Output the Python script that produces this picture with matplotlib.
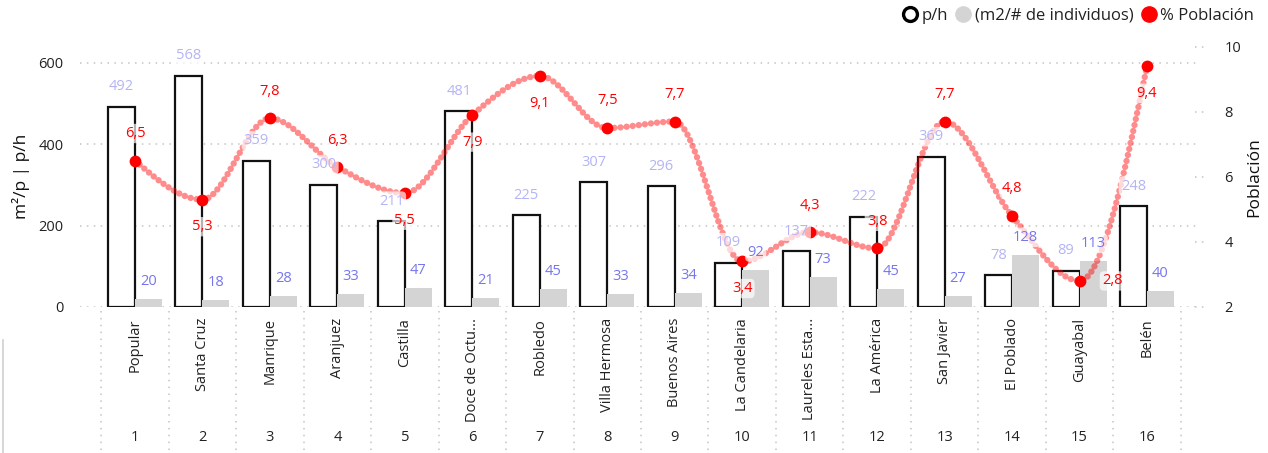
import numpy as np
import matplotlib
matplotlib.use("Agg")
import matplotlib.pyplot as plt
from matplotlib.lines import Line2D
import matplotlib.transforms as mtransforms

plt.rcParams['font.family'] = ['Open Sans', 'DejaVu Sans']

# ---- data ----
comunas = ["Popular", "Santa Cruz", "Manrique", "Aranjuez", "Castilla",
           "Doce de Octu...", "Robledo", "Villa Hermosa", "Buenos Aires",
           "La Candelaria", "Laureles Esta...", "La América", "San Javier",
           "El Poblado", "Guayabal", "Belén"]
numeros = ["1", "2", "3", "4", "5", "6", "7", "8", "9", "10", "11", "12",
           "13", "14", "15", "16"]
p_h = [492, 568, 359, 300, 211, 481, 225, 307, 296, 109, 137, 222, 369, 78, 89, 248]
m2_individuos = [20, 18, 28, 33, 47, 21, 45, 33, 34, 92, 73, 45, 27, 128, 113, 40]
poblacion = [6.5, 5.3, 7.8, 6.3, 5.5, 7.9, 9.1, 7.5, 7.7, 3.4, 4.3, 3.8, 7.7, 4.8, 2.8, 9.4]

# where each % label sits relative to its marker
pos_label = ["above", "below", "above", "above", "below", "below", "below", "above",
             "above", "below", "above", "above", "above", "above", "right", "below"]

# ---- styling ----
C_BAR_EDGE = "#111111"
C_GRAY = "#d4d4d4"
C_RED = "#ff0000"
C_LBL_PH = "#b4b4f6"
C_LBL_M2 = "#7676ee"
C_GRID = "#c4c4c4"
C_TEXT = "#222222"


def monotone_curve(xs, ys, n=40):
    """Monotone cubic (Steffen) path through the points, for a smooth line."""
    xs = np.asarray(xs, float)
    ys = np.asarray(ys, float)
    h = np.diff(xs)
    s = np.diff(ys) / h
    m = np.zeros_like(ys)
    for i in range(1, len(ys) - 1):
        p = (s[i - 1] * h[i] + s[i] * h[i - 1]) / (h[i - 1] + h[i])
        m[i] = (np.sign(s[i - 1]) + np.sign(s[i])) * min(abs(s[i - 1]), abs(s[i]), 0.5 * abs(p))
    m[0] = (3 * s[0] - m[1]) / 2
    m[-1] = (3 * s[-1] - m[-2]) / 2
    px, py = [], []
    for i in range(len(xs) - 1):
        t = np.linspace(0, 1, n, endpoint=False)
        h00 = 2 * t**3 - 3 * t**2 + 1
        h10 = t**3 - 2 * t**2 + t
        h01 = -2 * t**3 + 3 * t**2
        h11 = t**3 - t**2
        px.append(xs[i] + t * h[i])
        py.append(h00 * ys[i] + h10 * h[i] * m[i] + h01 * ys[i + 1] + h11 * h[i] * m[i + 1])
    px.append([xs[-1]])
    py.append([ys[-1]])
    return np.concatenate(px), np.concatenate(py)


W, H = 1268, 453
fig = plt.figure(figsize=(W / 100, H / 100), dpi=100)
ax_l, ax_r, ax_b, ax_t = 80, 1198, 307, 46.7
ax = fig.add_axes([ax_l / W, 1 - ax_b / H, (ax_r - ax_l) / W, (ax_b - ax_t) / H])
ax2 = ax.twinx()

x = np.arange(1, len(comunas) + 1)
bw = 0.4

# bars
ax.bar(x - bw / 2, p_h, width=bw, facecolor="white", edgecolor=C_BAR_EDGE,
       linewidth=1.6, zorder=2)
ax.bar(x + bw / 2, m2_individuos, width=bw, facecolor=C_GRAY, edgecolor="none", zorder=2)

ax.set_xlim(0.185, 16.756)
ax.set_ylim(0, 639.3)
ax2.set_ylim(2, 10)

# horizontal dotted gridlines
for v in [0, 200, 400, 600]:
    ax.axhline(v, color=C_GRID, linestyle=(0, (1, 3.5)), linewidth=1.1, zorder=0)

for a in (ax, ax2):
    for sp in a.spines.values():
        sp.set_visible(False)

# smooth dotted line and markers
cx, cy = monotone_curve(x, poblacion)
ax2.plot(cx, cy, color=C_RED, alpha=0.45, linewidth=4.6,
         linestyle=(0, (0.01, 0.95)), dash_capstyle="round", zorder=2)
ax2.plot(x, poblacion, linestyle="none", marker="o", markersize=8.5,
         color=C_RED, markeredgewidth=0, zorder=3)

bbox = dict(boxstyle="round,pad=0.15,rounding_size=0.3", facecolor="white",
            edgecolor="none", alpha=0.68)

# labels for the bars (drawn on top of the line)
for xi, v in zip(x, p_h):
    ax2.annotate(f"{v}", xy=(xi - bw / 2, v), xycoords=ax.transData,
                 xytext=(0, 14.4), textcoords="offset points",
                 ha="center", va="center", fontsize=10.5, color=C_LBL_PH,
                 bbox=bbox, zorder=5, annotation_clip=False)
for xi, v in zip(x, m2_individuos):
    ax2.annotate(f"{v}", xy=(xi + bw / 2, v), xycoords=ax.transData,
                 xytext=(0, 12.6), textcoords="offset points",
                 ha="center", va="center", fontsize=10.5, color=C_LBL_M2,
                 bbox=bbox, zorder=5, annotation_clip=False)

offsets = {"above": (0, 19.5), "below": (0, -19.5), "right": (23.5, 0)}
for xi, v, p in zip(x, poblacion, pos_label):
    ax2.annotate(f"{v:.1f}".replace(".", ","), xy=(xi, v),
                 xytext=offsets[p], textcoords="offset points",
                 ha="center", va="center", fontsize=10.5, color=C_RED,
                 bbox=bbox, zorder=6, annotation_clip=False)

# left axis
ax.set_yticks([0, 200, 400, 600])
ax.tick_params(axis="y", length=0, pad=12, labelsize=10.5, labelcolor=C_TEXT)
ax.set_ylabel("m²/p | p/h", fontsize=12.5, color="#111111", labelpad=6)

# right axis with short dotted stubs
ax2.set_yticks([2, 4, 6, 8, 10])
ax2.tick_params(axis="y", length=0, pad=19, labelsize=10.5, labelcolor=C_TEXT)
ax2.set_ylabel("Población", fontsize=12.5, color="#111111", labelpad=4)
stub_tr = mtransforms.blended_transform_factory(ax2.transAxes, ax2.transData)
for v in [2, 4, 6, 8, 10]:
    ax2.plot([0.997, 1.009], [v, v], transform=stub_tr, color=C_GRID,
             linestyle=(0, (1, 3.5)), linewidth=1.1, clip_on=False)

# category axis: names then numbers
ax.set_xticks(x)
ax.set_xticklabels(comunas, rotation=90, fontsize=10.5, color=C_TEXT)
ax.tick_params(axis="x", length=0, pad=8)
xtr = mtransforms.blended_transform_factory(ax.transData, ax.transAxes)
for xi, n in zip(x, numeros):
    ax.text(xi, -0.5, n, transform=xtr, ha="center", va="center",
            fontsize=10.5, color=C_TEXT)
for b in np.arange(0.5, len(comunas) + 1, 1.0):
    ax.plot([b, b], [-0.015, -0.57], transform=xtr, color=C_GRID,
            linestyle=(0, (1, 3.5)), linewidth=1.1, clip_on=False)

# thin frame line at the lower left edge
fig.add_artist(Line2D([3 / W, 3 / W], [0, 1 - 340 / H], color="#d0d0d0", linewidth=1.2))

# legend
handles = [
    Line2D([], [], linestyle="none", marker="o", markersize=10,
           markerfacecolor="white", markeredgecolor="black", markeredgewidth=2.4),
    Line2D([], [], linestyle="none", marker="o", markersize=11,
           markerfacecolor=C_GRAY, markeredgecolor=C_GRAY),
    Line2D([], [], linestyle="none", marker="o", markersize=11,
           markerfacecolor=C_RED, markeredgecolor=C_RED),
]
fig.legend(handles, ["p/h", "(m2/# de individuos)", "% Población"],
           loc="center right", bbox_to_anchor=(0.989, 1 - 16 / H), ncol=3,
           frameon=False, fontsize=12, handlelength=0.8, handletextpad=0.3,
           columnspacing=0.5, borderpad=0, borderaxespad=0, labelcolor=C_TEXT)

fig.savefig("out.png", dpi=100)
